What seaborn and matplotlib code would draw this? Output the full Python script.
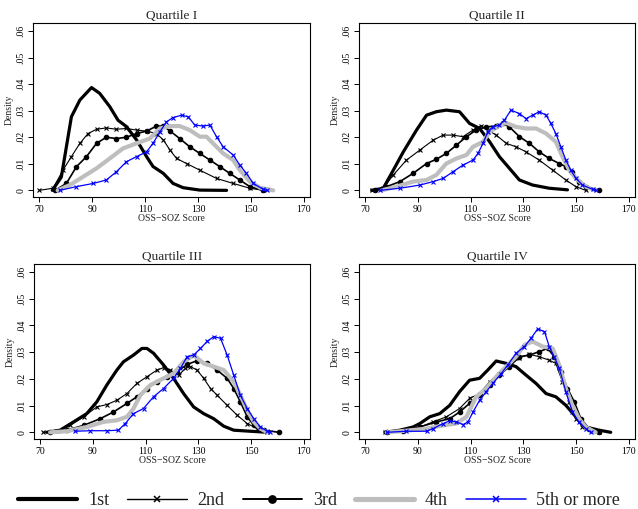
import numpy as np
import pandas as pd
import seaborn as sns
import matplotlib
matplotlib.use("Agg")
import matplotlib.pyplot as plt
from matplotlib.lines import Line2D

# ---------------- data ----------------
panel_titles = ["Quartile I", "Quartile II", "Quartile III", "Quartile IV"]
groups = ["1st", "2nd", "3rd", "4th", "5th or more"]
x_ticks = [70, 90, 110, 130, 150, 170]
y_ticks = [0, 0.01, 0.02, 0.03, 0.04, 0.05, 0.06]
y_tick_labels = ["0", ".01", ".02", ".03", ".04", ".05", ".06"]

# Quartile I
q1_1st_x = [75, 78.4, 82.2, 85.4, 89.8, 92.9, 96.7, 99.8, 103, 106.8, 110.6, 113, 116.9, 120.6, 124.4, 130.7, 140.8]
q1_1st_y = [0, .005, .0277, .034, .0387, .0365, .0315, .0264, .024, .019, .0127, .009, .0064, .0026, .001, .0001, 0]
q1_2nd_x = [70, 75.3, 79, 82.2, 85.4, 88.5, 91.7, 95.4, 99.2, 103, 106.8, 110.6, 114.3, 116.9, 119.4, 121.9, 125.7, 130.7, 137, 143.3, 149.6, 154.6]
q1_2nd_y = [0, .0008, .0076, .0127, .0177, .0214, .023, .0235, .023, .0233, .0227, .0223, .0214, .019, .0152, .012, .0101, .0076, .0045, .0026, .0008, 0]
q1_3rd_x = [76, 80.3, 84.1, 87.9, 91.7, 95.4, 99.2, 103, 106.8, 110.6, 114.3, 116.9, 119.4, 123.1, 126.9, 130.7, 134.5, 138.3, 142, 145.8, 149.6, 154.6]
q1_3rd_y = [0, .0026, .0089, .0127, .0177, .02, .0195, .02, .0214, .0223, .0242, .0242, .0224, .0195, .0164, .0139, .0114, .0089, .0064, .0039, .0014, 0]
q1_4th_x = [77, 81.6, 86.6, 91.7, 96.7, 101.7, 106.8, 111.8, 115.6, 119.4, 123.1, 126.9, 130.7, 133.2, 135.7, 139.5, 143.3, 145.8, 149.6, 153.4, 158.4]
q1_4th_y = [0, .002, .0051, .0083, .012, .0158, .0177, .0195, .0233, .0242, .0242, .0227, .0202, .0202, .0177, .0139, .0114, .0076, .0033, .001, 0]
q1_5th_x = [77.8, 84.1, 90.4, 95.4, 99.2, 103, 106.8, 110.6, 113, 115.6, 118.1, 120.6, 123.8, 126.3, 128.8, 132, 134.5, 137, 139.5, 143.3, 145.8, 148.3, 150.9, 154.6, 155.9]
q1_5th_y = [0, .0014, .0026, .0039, .007, .0108, .0127, .0145, .0177, .022, .0258, .0274, .0283, .0277, .0246, .0242, .0246, .0202, .0164, .0133, .0095, .0064, .0026, .0004, 0]

# Quartile II
q2_1st_x = [72.5, 76.9, 80.7, 84.5, 89.5, 93.3, 97, 100.8, 105.8, 109.6, 113.4, 117.2, 120.9, 124.7, 128.5, 133.5, 139.8, 146.7]
q2_1st_y = [0, .0008, .0076, .0145, .0227, .0283, .0296, .0302, .0296, .0252, .0233, .0183, .0127, .0083, .0039, .002, .0008, .0002]
q2_2nd_x = [72.5, 76.9, 80.7, 85.7, 90.8, 95.8, 99.6, 103.3, 107.1, 110.9, 114, 116.5, 119.7, 123.5, 127.2, 131, 136, 141.1, 146.1, 149.9, 153.6]
q2_2nd_y = [0, .0008, .0058, .0114, .0152, .0189, .0208, .0208, .0202, .0227, .0243, .0227, .0208, .0177, .0164, .0145, .0114, .0076, .0039, .0014, 0]
q2_3rd_x = [73.8, 78.2, 83.2, 88.2, 93.3, 97, 100.8, 104.6, 108.4, 112.1, 115.9, 119.7, 122.2, 124.7, 128.5, 132.3, 136, 139.8, 143.6, 146.1, 148.6, 151.1, 153.6, 158.7]
q2_3rd_y = [0, .0014, .0033, .0064, .0101, .0117, .0139, .017, .0202, .0227, .0239, .0242, .0252, .0239, .0202, .0177, .0145, .012, .0101, .0089, .007, .0033, .0014, 0]
q2_4th_x = [76.3, 81.9, 88.2, 93.3, 97, 100.8, 104.6, 108.4, 110.9, 114.7, 117.2, 121, 123.5, 127.2, 131, 134.8, 138.6, 142.3, 144.8, 147.4, 149.9, 153.6, 157.4]
q2_4th_y = [0, .0014, .0033, .0039, .0058, .0101, .012, .0133, .0164, .0183, .022, .0246, .0254, .0239, .0233, .0233, .0214, .0183, .0127, .0076, .0045, .0014, 0]
q2_5th_x = [75.7, 83.2, 90.8, 95.8, 99.6, 103.3, 107.1, 110.9, 112.8, 114.7, 116.5, 118.4, 120.9, 122.8, 125.3, 128.5, 131, 133.5, 136, 138.6, 140.4, 142.3, 144.2, 146.1, 148, 149.9, 152.4, 156.2, 157.4]
q2_5th_y = [0, .0008, .002, .0033, .0045, .007, .0095, .0114, .0139, .0177, .022, .0239, .0246, .0264, .0302, .0289, .027, .0283, .0296, .0283, .0252, .0214, .0164, .0114, .0076, .0045, .002, .0004, 0]

# Quartile III
q3_1st_x = [72.5, 77.6, 82.7, 87.7, 91.5, 95.3, 99.1, 101.6, 105.4, 108.6, 110.5, 113, 116.8, 120.6, 124.4, 128.2, 132, 135.8, 139.6, 143.4, 149.7, 154.8]
q3_1st_y = [0, .0008, .0039, .007, .0114, .0177, .0233, .0264, .0289, .0314, .0314, .0296, .0252, .0202, .0145, .0095, .007, .0051, .0023, .0008, .0004, .0001]
q3_2nd_x = [71.3, 76.3, 81.4, 86.5, 91.5, 95.3, 99.1, 102.9, 106.7, 110.5, 114.3, 116.8, 119.4, 122.5, 125.1, 127, 129.5, 132, 134.6, 137.1, 140.9, 144.7, 148.5, 152.3, 156.1]
q3_2nd_y = [0, .0004, .0026, .0058, .0095, .0104, .012, .0145, .0183, .0208, .0233, .0242, .0233, .0214, .0239, .0246, .0233, .0202, .0164, .0139, .0101, .0064, .0033, .0014, 0]
q3_3rd_x = [73.8, 80.1, 86.5, 92.8, 97.8, 102.9, 106.7, 110.5, 114.3, 118.1, 121.9, 125.7, 129.5, 133.3, 137.1, 140.9, 143.4, 145.9, 148.5, 151, 154.8, 160.5]
q3_3rd_y = [0, .0008, .0026, .0051, .0076, .0108, .0133, .0164, .0189, .0208, .0227, .0254, .0268, .0258, .0233, .0202, .0164, .0114, .0058, .0026, .0008, 0]
q3_4th_x = [73.8, 80.1, 87.7, 94, 99.1, 102.9, 105.4, 108, 111.8, 116.8, 120.6, 124.4, 128.2, 132, 135.8, 139.6, 143.4, 145.9, 148.5, 151, 153.5, 156.1]
q3_4th_y = [0, .0004, .002, .0039, .0045, .0058, .0089, .0139, .0177, .0202, .022, .0264, .0289, .0258, .0246, .0233, .0189, .0139, .0083, .0039, .0014, 0]
q3_5th_x = [83.3, 89, 95.3, 99.7, 102.3, 105.4, 109.2, 113, 116.8, 120.6, 123.2, 125.7, 128.2, 130.8, 133.3, 135.8, 138.4, 140.9, 143.4, 145.9, 148.5, 151, 153.5, 156.1, 157.3]
q3_5th_y = [.0004, .0006, .0006, .0008, .0033, .007, .0089, .0133, .0164, .0202, .0239, .0283, .0289, .0314, .034, .0358, .0352, .0289, .0214, .0139, .0089, .0051, .002, .0004, 0]

# Quartile IV
q4_1st_x = [77.5, 83.2, 88.2, 90.8, 94.5, 98.3, 102.1, 105.8, 109.6, 113.4, 116.5, 119.7, 123.5, 127.2, 131, 134.8, 138.6, 142.3, 146.1, 149.9, 153.6, 158.7, 163.1]
q4_1st_y = [0, .0008, .002, .0033, .0058, .007, .0101, .0152, .0195, .0202, .0233, .0267, .0258, .0246, .0214, .0183, .0145, .0133, .0101, .0058, .002, .0008, 0]
q4_2nd_x = [77.5, 84.5, 90.8, 95.8, 100.8, 105.8, 109.6, 113.4, 117.2, 120.9, 124.7, 128.5, 132.3, 136, 139.8, 142.3, 144.8, 147.4, 149.9, 152.4, 156.2, 158.7]
q4_2nd_y = [0, .0008, .002, .0039, .0058, .0089, .0127, .0145, .0189, .022, .0252, .0279, .0292, .0283, .027, .0258, .0189, .0114, .0051, .002, .0004, 0]
q4_3rd_x = [78.2, 84.5, 90.8, 97, 102.1, 105.8, 109.6, 113.4, 117.2, 120.9, 124.7, 128.5, 132.3, 136, 139.2, 141.7, 144.2, 146.7, 149.3, 151.8, 154.9, 158.7]
q4_3rd_y = [0, .0006, .002, .0039, .0051, .0076, .0108, .0139, .0177, .0214, .0246, .0283, .0289, .0302, .0314, .0283, .0227, .0164, .0114, .0051, .0014, 0]
q4_4th_x = [78.2, 85.7, 93.3, 99.6, 104.6, 108.4, 112.1, 115.9, 119.7, 123.5, 127.2, 130.4, 133.5, 137.3, 141.1, 143.6, 146.1, 148.6, 151.1, 153.6, 157.4]
q4_4th_y = [0, .0006, .0014, .0026, .0033, .0058, .0133, .0164, .0208, .0246, .0283, .0327, .034, .0321, .0314, .0252, .0164, .0101, .0051, .002, 0]
q4_5th_x = [78.2, 85.7, 93.3, 95.8, 99.6, 102.1, 104.6, 107.1, 109, 110.9, 113.4, 115.9, 118.4, 121.6, 124.1, 127.2, 130.4, 132.9, 135.4, 138, 139.8, 141.7, 143.6, 146.1, 148.6, 151.1, 153.6, 155.5]
q4_5th_y = [0, .0004, .0004, .0014, .0033, .0043, .0039, .0029, .0039, .0076, .012, .0152, .0183, .022, .0252, .0296, .0321, .0352, .0387, .0377, .0321, .0283, .0239, .0152, .0076, .0039, .0014, 0]

curves = {
    "Quartile I": [(q1_1st_x, q1_1st_y), (q1_2nd_x, q1_2nd_y), (q1_3rd_x, q1_3rd_y), (q1_4th_x, q1_4th_y), (q1_5th_x, q1_5th_y)],
    "Quartile II": [(q2_1st_x, q2_1st_y), (q2_2nd_x, q2_2nd_y), (q2_3rd_x, q2_3rd_y), (q2_4th_x, q2_4th_y), (q2_5th_x, q2_5th_y)],
    "Quartile III": [(q3_1st_x, q3_1st_y), (q3_2nd_x, q3_2nd_y), (q3_3rd_x, q3_3rd_y), (q3_4th_x, q3_4th_y), (q3_5th_x, q3_5th_y)],
    "Quartile IV": [(q4_1st_x, q4_1st_y), (q4_2nd_x, q4_2nd_y), (q4_3rd_x, q4_3rd_y), (q4_4th_x, q4_4th_y), (q4_5th_x, q4_5th_y)],
}

# ---------------- styles ----------------
styles = {
    "1st": dict(color="black", lw=2.3, marker=None, ms=0),
    "2nd": dict(color="black", lw=0.8, marker="x", ms=3.0),
    "3rd": dict(color="black", lw=1.2, marker="o", ms=3.2),
    "4th": dict(color="#BEBEBE", lw=3.0, marker=None, ms=0),
    "5th or more": dict(color="#0000FF", lw=0.9, marker="x", ms=3.0),
}

sns.set_style("ticks")
plt.rcParams["font.family"] = ["Liberation Serif", "DejaVu Serif"]

fig = plt.figure(figsize=(6.38, 5.09), dpi=100)
W, H = 638.0, 509.0
boxes = [(33, 23, 310, 197), (359, 23, 635, 197), (34, 264, 310, 439), (359, 264, 635, 439)]

for title, (l, t, r, b) in zip(panel_titles, boxes):
    ax = fig.add_axes([l / W, (H - b) / H, (r - l) / W, (b - t) / H])
    for g, (xs, ys) in zip(groups, curves[title]):
        st = styles[g]
        df = pd.DataFrame({"x": xs, "y": ys})
        sns.lineplot(data=df, x="x", y="y", ax=ax, color=st["color"], linewidth=st["lw"],
                     marker=st["marker"], markersize=st["ms"], markeredgewidth=0.8,
                     markeredgecolor=st["color"], sort=True, estimator=None)
    ax.set_xlim(67.7, 172.3)
    ax.set_ylim(-0.0025, 0.063)
    ax.set_xticks(x_ticks)
    ax.set_xticklabels([str(v) for v in x_ticks], fontsize=7)
    ax.set_yticks(y_ticks)
    ax.set_yticklabels(y_tick_labels, fontsize=7, rotation=90, va="center")
    ax.tick_params(direction="out", length=3.5, width=0.7, pad=2, colors="black")
    ax.set_xlabel("OSS\u2212SOZ Score", fontsize=7, labelpad=0)
    ax.set_ylabel("Density", fontsize=7, labelpad=2)
    ax.set_title(title, fontsize=9.5, pad=3)
    for s in ax.spines.values():
        s.set_linewidth(0.8)
        s.set_color("black")
        s.set_visible(True)

handles = []
for g in groups:
    st = styles[g]
    handles.append(Line2D([], [], color=st["color"], lw=st["lw"] + (0.7 if g in ("1st", "4th") else 0.2),
                          marker=st["marker"], markersize=st["ms"] + 2.0, markeredgewidth=1.1))
fig.legend(handles, groups, loc="center", bbox_to_anchor=(0.5, 0.017), ncol=5, frameon=False,
           fontsize=13, handlelength=3.3, handletextpad=0.59, columnspacing=1.0, numpoints=1,
           borderaxespad=0, borderpad=0)

fig.savefig("out.png", dpi=100)
